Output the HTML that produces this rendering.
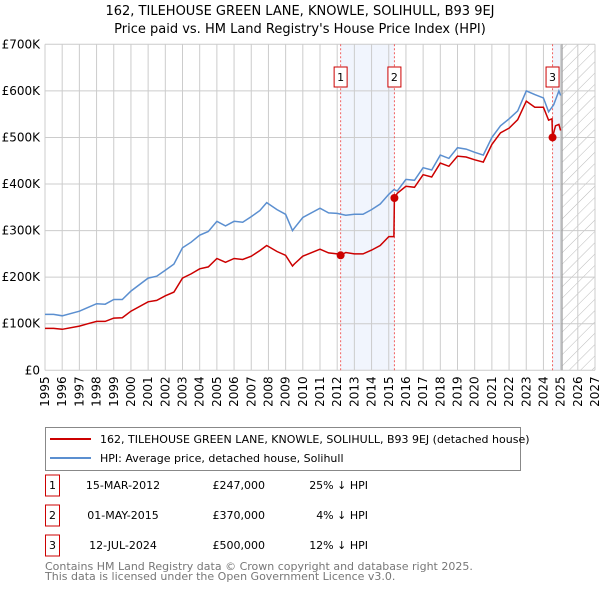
<!DOCTYPE html>
<html><head><meta charset="utf-8"><style>
body{margin:0;background:#fff;font-family:"Liberation Sans","DejaVu Sans",sans-serif;}
svg text{font-family:"DejaVu Sans","Liberation Sans",sans-serif;}
</style></head><body>
<svg id="c" width="600" height="590" xmlns="http://www.w3.org/2000/svg">
<defs><pattern id="hatch" width="8" height="8" patternUnits="userSpaceOnUse" patternTransform="rotate(45)"><line x1="0" y1="0" x2="0" y2="8" stroke="#bbb" stroke-width="1"/></pattern></defs>
<text x="300" y="15" text-anchor="middle" font-size="13">162, TILEHOUSE GREEN LANE, KNOWLE, SOLIHULL, B93 9EJ</text>
<text x="300" y="33" text-anchor="middle" font-size="13">Price paid vs. HM Land Registry's House Price Index (HPI)</text>
<g id="plot"></g>
<g>
<rect x="45.5" y="427.5" width="475" height="43" fill="#fff" stroke="#888"/>
<line x1="50" y1="439" x2="91" y2="439" stroke="#cc0000" stroke-width="2"/>
<text x="100" y="443" font-size="11">162, TILEHOUSE GREEN LANE, KNOWLE, SOLIHULL, B93 9EJ (detached house)</text>
<line x1="50" y1="458" x2="91" y2="458" stroke="#5b8fd0" stroke-width="2"/>
<text x="100" y="462" font-size="11">HPI: Average price, detached house, Solihull</text>
</g>
<g id="tbl" font-size="11"></g>
<text x="45" y="570" font-size="11" fill="#777">Contains HM Land Registry data © Crown copyright and database right 2025.</text>
<text x="45" y="580" font-size="11" fill="#777">This data is licensed under the Open Government Licence v3.0.</text>
</svg>
<script>
const hpiDates=[1995,1995.5,1996,1997,1997.5,1998,1998.5,1999,1999.5,2000,2001,2001.5,2002,2002.5,2003,2003.5,2004,2004.5,2005,2005.5,2006,2006.5,2007,2007.5,2007.9,2008.5,2009,2009.4,2009.5,2010,2011,2011.5,2012,2012.5,2013,2013.5,2014,2014.5,2015,2015.3,2015.5,2016,2016.5,2017,2017.5,2018,2018.5,2019,2019.5,2020,2020.5,2021,2021.5,2022,2022.5,2023,2023.5,2024,2024.3,2024.6,2024.9,2025];
const hpiValues=[120,120,117,127,135,143,142,152,152,170,198,202,215,228,263,275,290,298,320,310,320,318,330,343,360,345,335,300,305,328,348,338,337,333,335,335,345,357,378,388,385,410,408,435,430,462,455,478,475,468,462,500,525,540,557,600,592,585,555,570,600,590];
const priceDates=[1995,1995.5,1996,1997,1997.5,1998,1998.5,1999,1999.5,2000,2001,2001.5,2002,2002.5,2003,2003.5,2004,2004.5,2005,2005.5,2006,2006.5,2007,2007.5,2007.9,2008.5,2009,2009.4,2009.5,2010,2011,2011.5,2012,2012.2,2012.5,2013,2013.5,2014,2014.5,2015,2015.3,2015.33,2015.5,2016,2016.5,2017,2017.5,2018,2018.5,2019,2019.5,2020,2020.5,2021,2021.5,2022,2022.5,2023,2023.5,2024,2024.3,2024.5,2024.53,2024.7,2024.9,2025];
const priceValues=[90,90,88,95,100,105,105,112,113,127,147,150,160,168,198,207,218,222,240,232,240,238,245,257,268,255,247,224,228,245,260,252,250,247,253,250,250,258,268,287,287,370,380,395,393,420,415,445,438,460,458,452,447,485,510,520,538,578,565,565,537,540,500,525,528,515];
const saleDates=[2012.2,2015.33,2024.53];
const saleValues=[247,370,500];
const saleLabels=["1","2","3"];
const saleDateText=["15-MAR-2012","01-MAY-2015","12-JUL-2024"];
const salePriceText=["£247,000","£370,000","£500,000"];
const salePctText=["25% ↓ HPI","4% ↓ HPI","12% ↓ HPI"];
const yTicks=[0,100,200,300,400,500,600,700];
const yTickLabels=["£0","£100K","£200K","£300K","£400K","£500K","£600K","£700K"];
const xTicks=[1995,1996,1997,1998,1999,2000,2001,2002,2003,2004,2005,2006,2007,2008,2009,2010,2011,2012,2013,2014,2015,2016,2017,2018,2019,2020,2021,2022,2023,2024,2025,2026,2027];
const dataEnd=2025.08;

const X0=45,X1=595,Y0=370.3,Y1=44.3;
const xs=d=>X0+(d-1995)/(2027-1995)*(X1-X0);
const ys=v=>Y0-v/700*(Y0-Y1);
const NS="http://www.w3.org/2000/svg";
const plot=document.getElementById('plot');
function mk(tag,attrs,parent){const e=document.createElementNS(NS,tag);for(const k in attrs)e.setAttribute(k,attrs[k]);(parent||plot).appendChild(e);return e;}

// shaded regions
let r=mk('rect',{x:xs(saleDates[0]),y:Y1,width:xs(saleDates[1])-xs(saleDates[0]),height:Y0-Y1,fill:'#eef3fc',opacity:0.8});


r=mk('rect',{x:xs(saleDates[2]),y:Y1,width:xs(dataEnd)-xs(saleDates[2]),height:Y0-Y1,fill:'#eef3fc',opacity:0.8});


r=mk('rect',{x:xs(dataEnd),y:Y1,width:X1-xs(dataEnd),height:Y0-Y1,fill:'url(#hatch)'});



// grid
xTicks.forEach(t=>{
  const l=mk('line',{x1:xs(t),x2:xs(t),y1:Y1,y2:Y0,stroke:'#ccc','stroke-width':1});
  
  
  const tx=mk('text',{x:0,y:0,'font-size':12,'text-anchor':'end',transform:`translate(${xs(t)+4},${Y0+6}) rotate(-90)`});
  tx.textContent=t;
  
  
});
yTicks.forEach((t,i)=>{
  const l=mk('line',{x1:X0,x2:X1,y1:ys(t),y2:ys(t),stroke:'#ccc','stroke-width':1});
  
  
  const tx=mk('text',{x:X0-5,y:ys(t)+4,'font-size':12,'text-anchor':'end'});
  tx.textContent=yTickLabels[i];
  
  
});
let l=mk('line',{x1:xs(dataEnd),x2:xs(dataEnd),y1:Y1,y2:Y0,stroke:'#999','stroke-width':1.2});



// sale vlines
saleDates.forEach((d,i)=>{
  const v=mk('line',{x1:xs(d),x2:xs(d),y1:Y1,y2:Y0,stroke:'#f06060','stroke-width':1,'stroke-dasharray':'2,2'});
  
  
  const b=mk('rect',{x:xs(d)-6.5,y:67,width:13,height:20,fill:'#fff',stroke:'#cc0000'});
  
  
  const t=mk('text',{x:xs(d),y:81,'font-size':11,'text-anchor':'middle'});
  t.textContent=saleLabels[i];
  
  
});

function path(dates,vals){return dates.map((d,i)=>(i?'L':'M')+xs(d).toFixed(1)+','+ys(vals[i]).toFixed(1)).join('');}
let p=mk('path',{d:path(hpiDates,hpiValues),fill:'none',stroke:'#5b8fd0','stroke-width':1.5});


p=mk('path',{d:path(priceDates,priceValues),fill:'none',stroke:'#cc0000','stroke-width':1.5});


saleDates.forEach((d,i)=>{
  const c=mk('circle',{cx:xs(d),cy:ys(saleValues[i]),r:4,fill:'#cc0000'});
  
  
});

// table
const tbl=document.getElementById('tbl');
saleLabels.forEach((s,i)=>{
  const y=485+i*30;
  const b=mk('rect',{x:45.5,y:y-10,width:14,height:21,fill:'#fff',stroke:'#cc0000'},tbl);
  
  
  const cells=[[52.5,'middle',s],[123,'middle',saleDateText[i]],[265,'end',salePriceText[i]],[368,'end',salePctText[i]]];
  cells.forEach(c=>{
    const t=mk('text',{x:c[0],y:y+4,'text-anchor':c[1]},tbl);
    t.textContent=c[2];
    
    
  });
});
</script>
</body></html>
